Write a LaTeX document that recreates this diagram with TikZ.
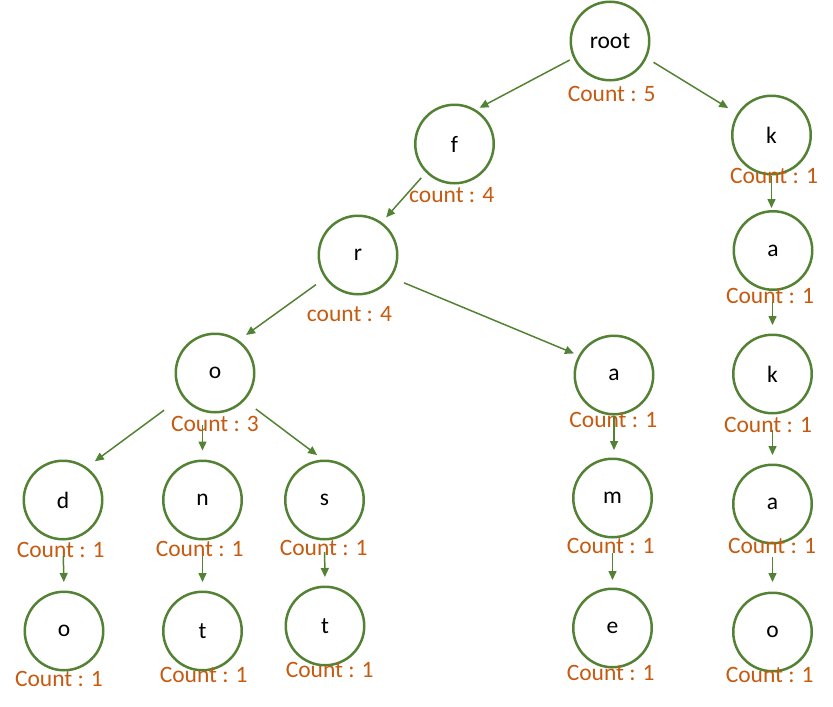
\documentclass[tikz,border=0pt]{standalone}
\usepackage{fontspec}
\setmainfont{Carlito}
\usetikzlibrary{arrows.meta,calc}
\definecolor{cgreen}{RGB}{84,130,53}
\definecolor{corange}{RGB}{197,90,17}
\begin{document}
\begin{tikzpicture}[x=1pt,y=-1pt,
  tnode/.style={circle,draw=cgreen,line width=2.5pt,minimum size=78.5pt,inner sep=0pt,
    font=\fontsize{23.5}{28}\selectfont,text=black},
  cnt/.style={anchor=base,inner sep=0pt,text=corange,font=\fontsize{23.5}{28}\selectfont},
  edge/.style={draw=cgreen,line width=1.5pt,-{Triangle[length=9pt,width=8pt]}}]
\useasboundingbox (0,0) rectangle (833,707);
% tree nodes
\node[tnode] (root) at (610,41) {root};
\node[tnode] (f) at (454.5,144) {f};
\node[tnode] (r) at (358,255) {r};
\node[tnode] (o) at (215,373) {o};
\node[tnode] (a) at (614,375) {a};
\node[tnode] (d) at (63,500) {d};
\node[tnode] (n) at (202.5,500) {n};
\node[tnode] (s) at (324.5,500) {s};
\node[tnode] (o3) at (64,631) {o};
\node[tnode] (t1) at (202.5,631) {t};
\node[tnode] (t2) at (325,626) {t};
\node[tnode] (m) at (612.5,498) {m};
\node[tnode] (e) at (612.5,628) {e};
\node[tnode] (k1) at (771.5,135) {k};
\node[tnode] (a1) at (773,250.5) {a};
\node[tnode] (k2) at (772.5,374) {k};
\node[tnode] (a2) at (772.5,504) {a};
\node[tnode] (o2) at (772.5,632) {o};
% count labels
\node[cnt] (lroot) at (611.7,101) {Count : 5};
\node[cnt] (lf) at (451.7,202) {count : 4};
\node[cnt] (lr) at (349.5,321) {count : 4};
\node[cnt] (lo) at (215,431) {Count : 3};
\node[cnt] (la) at (613.3,427) {Count : 1};
\node[cnt] (lm) at (610.7,553) {Count : 1};
\node[cnt] (le) at (610.7,680) {Count : 1};
\node[cnt] (lk1) at (774,183) {Count : 1};
\node[cnt] (la1) at (770,303) {Count : 1};
\node[cnt] (lk2) at (768,432) {Count : 1};
\node[cnt] (la2) at (772,553) {Count : 1};
\node[cnt] (lo2) at (769.7,682) {Count : 1};
\node[cnt] (ld) at (60.7,557) {Count : 1};
\node[cnt] (ln) at (199.7,556) {Count : 1};
\node[cnt] (ls) at (323.7,555) {Count : 1};
\node[cnt] (lo3) at (59,686) {Count : 1};
\node[cnt] (lt1) at (203.7,682) {Count : 1};
\node[cnt] (lt2) at (329.7,677) {Count : 1};
% diagonal edges
\draw[edge,shorten <=4pt,shorten >=4pt] (root.205) -- (f.58);
\draw[edge,shorten <=8pt,shorten >=10.5pt] (root.335) -- (k1.148);
\draw[edge,shorten <=7pt,shorten >=6.5pt] (f.225) -- (r.54);
\draw[edge,shorten <=11pt,shorten >=9pt] (r.215) -- (o.54);
\draw[edge,shorten <=13.5pt,shorten >=5pt] (r.326) -- (a.151);
\draw[edge,shorten <=22.5pt,shorten >=10pt] (o.216) -- (d.54);
\draw[edge,shorten <=14pt,shorten >=7.5pt] (o.317) -- (s.92);
\draw[edge,shorten <=11pt,shorten >=9pt] (n.north |- o.south) -- (n.north);
% vertical edges
\draw[edge,shorten <=15.5pt,shorten >=8.5pt] (d.south) -- (o3.north);
\draw[edge,shorten <=15.5pt,shorten >=8.5pt] (n.south) -- (t1.north);
\draw[edge,shorten <=11.5pt,shorten >=8.5pt] (s.south) -- (t2.north);
\draw[edge,shorten <=0pt,shorten >=7.5pt] (a.south) -- (a.south |- m.north);
\draw[edge,shorten <=14.5pt,shorten >=7.5pt] (m.south) -- (e.north);
\draw[edge,shorten <=0pt,shorten >=2pt] (k1.south) -- (k1.south |- a1.north);
\draw[edge,shorten <=11pt,shorten >=8.5pt] (k2.north |- a1.south) -- (k2.north);
\draw[edge,shorten <=15.5pt,shorten >=8.5pt] (k2.south) -- (a2.north);
\draw[edge,shorten <=12.5pt,shorten >=9.5pt] (a2.south) -- (o2.north);
\end{tikzpicture}
\end{document}
